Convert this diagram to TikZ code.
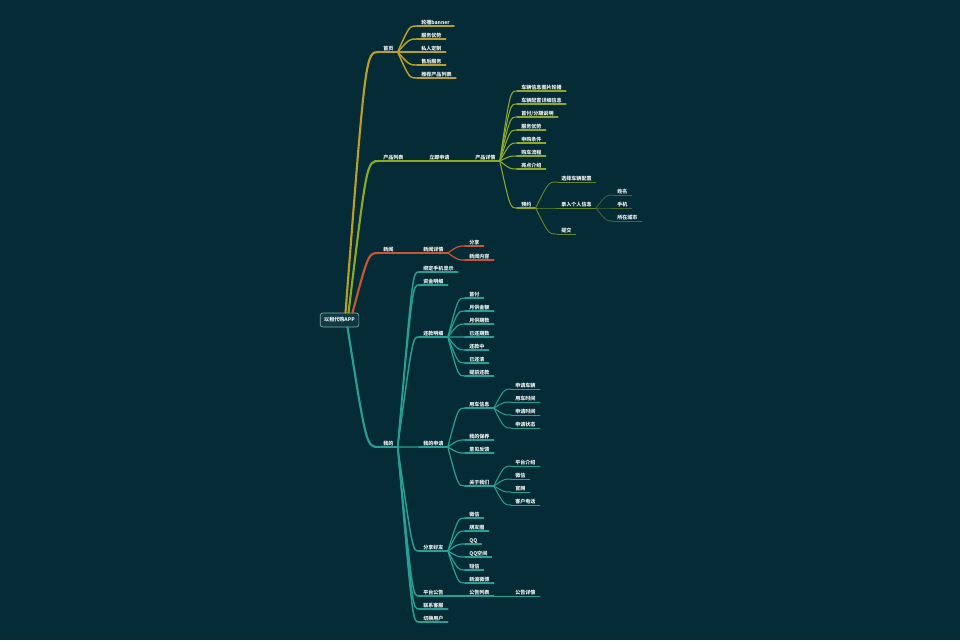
\documentclass[tikz,border=0pt]{standalone}
\usepackage{fontspec}
\newfontfamily\cjk{Noto Sans CJK SC}
\usepackage{tikz}
\usetikzlibrary{calc}
\definecolor{mapbg}{RGB}{5,44,54}
\definecolor{rootfill}{RGB}{14,58,68}
\definecolor{rootline}{RGB}{140,165,170}
\definecolor{labelwhite}{RGB}{238,240,240}
\definecolor{homegold}{RGB}{186,158,38}
\definecolor{prodgreen}{RGB}{140,168,36}
\definecolor{prodgreenii}{RGB}{100,134,40}
\definecolor{prodgreeniii}{RGB}{70,102,52}
\definecolor{newsred}{RGB}{200,86,50}
\definecolor{mineteal}{RGB}{38,160,148}

\tikzset{
  topic/.style={font=\cjk\bfseries\fontsize{3.8}{4}\selectfont, text=labelwhite, anchor=south west,
    inner xsep=3pt, inner ysep=0.4pt, text height=3.4pt, text depth=0.5pt},
  ul/.style 2 args={append after command={(\tikzlastnode.south west) edge[draw=#1, line width=#2, line cap=round] (\tikzlastnode.south east)}},
  link/.style 2 args={draw=#1, line width=#2, line cap=round},
  fan/.style={to path={.. controls ($(\tikztotarget -| \tikztostart)!#1!(\tikztotarget)$) .. (\tikztotarget)}},
  fan/.default=0.6
}

\begin{document}
\begin{tikzpicture}[x=0.75pt, y=-0.75pt]
    \fill[mapbg] (0,0) rectangle (960,640);

    % Root
    \node[draw=rootline, fill=rootfill, rounded corners=2pt, line width=0.5pt, inner sep=0pt,
      minimum width=29pt, minimum height=10.5pt, text=labelwhite,
      font=\cjk\bfseries\fontsize{3.8}{4}\selectfont] (root) at (339.5,320) {以租代购APP};

    % Main topics
    \node[topic, ul={homegold}{1.6pt}] (home) at (379,52) {首页};
    \node[topic, ul={prodgreen}{1.6pt}] (prod) at (379,161) {产品列表};
    \node[topic, ul={newsred}{1.6pt}] (news) at (379,253) {新闻};
    \node[topic, ul={mineteal}{1.6pt}] (mine) at (379,447) {我的};

    \draw[link={homegold}{1.6pt}] ($(root.north)+(6,0)$) to[fan] (home.south west);
    \draw[link={prodgreen}{1.6pt}] ($(root.north)+(9,0)$) to[fan] (prod.south west);
    \draw[link={newsred}{1.6pt}] ($(root.north)+(13,0)$) to[fan] (news.south west);
    \draw[link={mineteal}{1.6pt}] ($(root.south)+(8,0)$) to[fan] (mine.south west);

    % Home branch
    \foreach \txt/\yy [count=\i] in {轮播banner/26,服务优势/39,私人定制/52,售后服务/65,推荐产品列表/78}{
      \node[topic, ul={homegold}{1.1pt}] (home\i) at (417,\yy) {\txt};
      \draw[link={homegold}{1.1pt}] (home.south east) to[fan] (home\i.south west);
    }

    % Product branch
    \node[topic, ul={prodgreen}{1.1pt}] (apply) at (425,161) {立即申请};
    \node[topic, ul={prodgreen}{0.9pt}] (detail) at (471,161) {产品详情};
    \draw[link={prodgreen}{1.1pt}] (prod.south east) -- (apply.south west);
    \draw[link={prodgreen}{0.9pt}] (apply.south east) -- (detail.south west);
    \foreach \txt/\yy [count=\i] in {车辆信息图片轮播/91,车辆配置详细信息/104,{首付/分期说明}/117,服务优势/130,申购条件/143,购车流程/156,亮点介绍/169,预约/208}{
      \node[topic, ul={prodgreen}{0.8pt}] (detail\i) at (517,\yy) {\txt};
      \draw[link={prodgreen}{0.8pt}] (detail.south east) to[fan] (detail\i.south west);
    }
    \foreach \txt/\yy [count=\i] in {选择车辆配置/182,录入个人信息/208,提交/234}{
      \node[topic, ul={prodgreenii}{0.7pt}] (book\i) at (557,\yy) {\txt};
      \draw[link={prodgreenii}{0.7pt}] (detail8.south east) to[fan] (book\i.south west);
    }
    \foreach \txt/\yy [count=\i] in {姓名/195,手机/208,所在城市/221}{
      \node[topic, ul={prodgreeniii}{0.6pt}] (info\i) at (613,\yy) {\txt};
      \draw[link={prodgreeniii}{0.6pt}] (book2.south east) to[fan] (info\i.south west);
    }

    % News branch
    \node[topic, ul={newsred}{1.1pt}] (newsd) at (419,253) {新闻详情};
    \draw[link={newsred}{1.1pt}] (news.south east) -- (newsd.south west);
    \foreach \txt/\yy [count=\i] in {分享/246,新闻内容/260}{
      \node[topic, ul={newsred}{0.9pt}] (newsd\i) at (465,\yy) {\txt};
      \draw[link={newsred}{0.9pt}] (newsd.south east) to[fan] (newsd\i.south west);
    }

    % Mine branch
    \foreach \txt/\yy [count=\i] in {绑定手机显示/272,资金明细/285,还款明细/337,我的申请/447,分享好友/551,平台公告/596,联系客服/609,切换用户/622}{
      \node[topic, ul={mineteal}{1.1pt}] (mine\i) at (419,\yy) {\txt};
      \draw[link={mineteal}{1.1pt}] (mine.south east) to[fan=0.7] (mine\i.south west);
    }
    \foreach \txt/\yy [count=\i] in {首付/298,月供金额/311,月供期数/324,已还期数/337,还款中/350,已还清/363,提前还款/376}{
      \node[topic, ul={mineteal}{0.9pt}] (pay\i) at (465,\yy) {\txt};
      \draw[link={mineteal}{0.9pt}] (mine3.south east) to[fan] (pay\i.south west);
    }
    \foreach \txt/\yy [count=\i] in {用车信息/408,我的保养/440,意见反馈/453,关于我们/486}{
      \node[topic, ul={mineteal}{0.9pt}] (req\i) at (465,\yy) {\txt};
      \draw[link={mineteal}{0.9pt}] (mine4.south east) to[fan] (req\i.south west);
    }
    \foreach \txt/\yy [count=\i] in {申请车辆/389,用车时间/402,申请时间/415,申请状态/428}{
      \node[topic, ul={mineteal}{0.75pt}] (car\i) at (511,\yy) {\txt};
      \draw[link={mineteal}{0.75pt}] (req1.south east) to[fan] (car\i.south west);
    }
    \foreach \txt/\yy [count=\i] in {平台介绍/466,微信/479,官网/492,客户电话/505}{
      \node[topic, ul={mineteal}{0.75pt}] (about\i) at (511,\yy) {\txt};
      \draw[link={mineteal}{0.75pt}] (req4.south east) to[fan] (about\i.south west);
    }
    \foreach \txt/\yy [count=\i] in {微信/518,朋友圈/531,QQ/544,QQ空间/557,短信/570,新浪微博/583}{
      \node[topic, ul={mineteal}{0.9pt}] (share\i) at (465,\yy) {\txt};
      \draw[link={mineteal}{0.9pt}] (mine5.south east) to[fan] (share\i.south west);
    }
    \node[topic, ul={mineteal}{0.9pt}] (notice) at (465,596) {公告列表};
    \node[topic, ul={mineteal}{0.75pt}] (noticed) at (511,596) {公告详情};
    \draw[link={mineteal}{0.9pt}] (mine6.south east) -- (notice.south west);
    \draw[link={mineteal}{0.75pt}] (notice.south east) -- (noticed.south west);
\end{tikzpicture}
\end{document}
